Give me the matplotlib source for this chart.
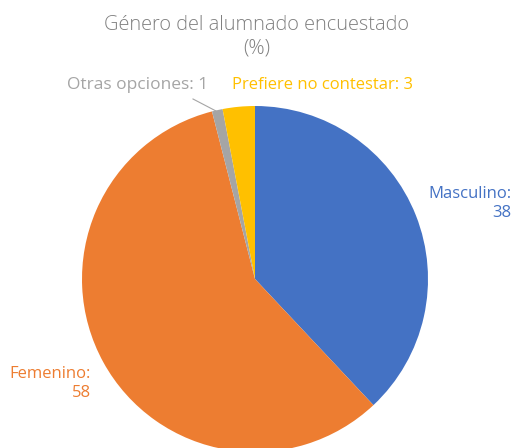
import matplotlib.pyplot as plt

categorias = ['Masculino', 'Femenino', 'Otras opciones', 'Prefiere no contestar']
valores = [38, 58, 1, 3]
colores = ['#4472C4', '#ED7D31', '#A5A5A5', '#FFC000']

plt.rcParams['font.family'] = ['Open Sans', 'DejaVu Sans']

W, H = 514, 448
fig = plt.figure(figsize=(W / 100, H / 100), dpi=100)

# centro y radio del pastel en pixeles
cx, cy, r = 255, 279, 173
ax = fig.add_axes([(cx - r) / W, (H - cy - r) / H, 2 * r / W, 2 * r / H])
ax.pie(valores, colors=colores, startangle=90, counterclock=False,
       wedgeprops=dict(linewidth=0))
ax.set_xlim(-1, 1)
ax.set_ylim(-1, 1)
ax.set_aspect('equal')
ax.axis('off')


def px(x, y):
    return x / W, 1 - y / H


fig.text(*px(257, 25), 'Género del alumnado encuestado', ha='center', va='center',
         fontsize=14.4, color='#808080', fontweight='light')
fig.text(*px(257, 49), '(%)', ha='center', va='center',
         fontsize=14.4, color='#808080', fontweight='light')

fig.text(*px(511, 203), 'Masculino:\n38', ha='right', va='center', fontsize=12,
         color=colores[0], multialignment='right', linespacing=1.25)
fig.text(*px(91, 383), 'Femenino:\n58', ha='right', va='center', fontsize=12,
         color=colores[1], multialignment='right', linespacing=1.25)
fig.text(*px(67, 85), 'Otras opciones: 1', ha='left', va='center', fontsize=12.5,
         color=colores[2])
fig.text(*px(232, 85), 'Prefiere no contestar: 3', ha='left', va='center', fontsize=12,
         color=colores[3])

# linea guia de "Otras opciones"
fig.add_artist(plt.Line2D([193 / W, 216 / W], [1 - 99 / H, 1 - 111 / H],
                          color='#A5A5A5', linewidth=0.8))

fig.savefig('out.png', dpi=100)
